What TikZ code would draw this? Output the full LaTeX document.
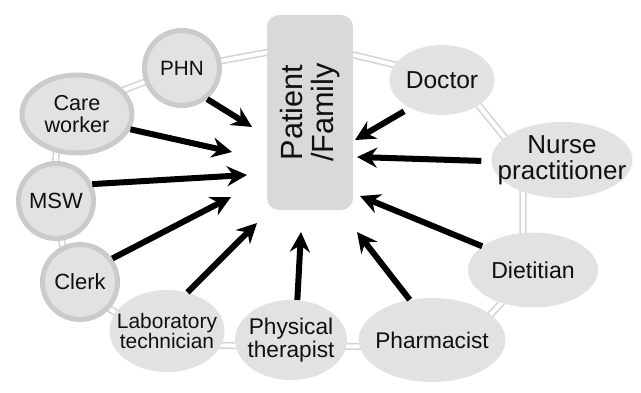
\documentclass[tikz,border=0pt]{standalone}
\usepackage{fontspec}
\setmainfont{Liberation Sans}
\usepackage{xcolor}
\usepackage{tikz}
\usetikzlibrary{arrows.meta, backgrounds, shapes.geometric}

\definecolor{rimgray}{HTML}{CBCBCB}
\definecolor{nodegray}{HTML}{E2E2E2}
\definecolor{boxgray}{HTML}{D9D9D9}
\definecolor{linkgray}{HTML}{D4D4D4}
\definecolor{ink}{HTML}{101010}

\begin{document}
\begin{tikzpicture}[
    x=0.75pt, y=-0.75pt,
    txt/.style={align=center, text=ink, inner sep=0pt, font=\fontsize{#1}{#1}\selectfont},
    txt/.default=16.5,
    staff/.style={circle, draw=rimgray, line width=3.75pt, fill=nodegray, minimum size=56.25pt, inner sep=0pt},
    role/.style={ellipse, fill=nodegray, inner sep=0pt},
    ring/.style={draw=linkgray, double=white, line width=1.2pt, double distance=3pt, line join=round},
    arr/.style={line width=4.5pt, -{Stealth[length=15pt, width=15pt, inset=5pt]}}
]
\useasboundingbox (0,0) rectangle (641,392);

% centre box
\node[rectangle, rounded corners=9pt, fill=boxgray, minimum width=64.5pt, minimum height=146.25pt, inner sep=0pt,
      label={[txt=23, rotate=90]center:Patient\\/Family}] (pf) at (310,112.5) {};

% left side, outlined
\node[staff, label={[txt=15.5]center:PHN}] (phn) at (182,68) {};
\node[staff, ellipse, minimum width=82.5pt, minimum height=58.5pt, label={[txt=16.2]center:Care\\worker}] (care) at (77,114) {};
\node[staff, label={[txt]center:MSW}] (msw) at (56,201) {};
\node[staff, label={[txt]center:Clerk}] (clerk) at (80,282) {};

% bottom and right side
\node[role, minimum width=86.25pt, minimum height=61.5pt, label={[txt=15.7]center:Laboratory\\technician}] (lab) at (167,331) {};
\node[role, minimum width=84pt, minimum height=60pt, label={[txt=17]center:Physical\\therapist}] (pt) at (291,340) {};
\node[role, minimum width=110pt, minimum height=63pt, label={[txt=17]center:Pharmacist}] (pharm) at (432,340) {};
\node[role, minimum width=97.5pt, minimum height=56.25pt, label={[txt=17.3]center:Dietitian}] (diet) at (533,270) {};
\node[role, minimum width=105.75pt, minimum height=57pt, label={[txt=19.5]center:Nurse\\practitioner}] (np) at (562,160) {};
\node[role, minimum width=78.75pt, minimum height=52.5pt, label={[txt=18.4]center:Doctor}] (doc) at (442,80) {};

% ring behind everything
\begin{scope}[on background layer]
\draw[ring] (phn.center) -- ([shift={(0,-68)}]pf.center) -- ([shift={(16,0)}]doc.center)
    -- ([shift={(-39,0)}]np.center) -- ([shift={(-10,10)}]diet.center) -- ([shift={(28,7)}]pharm.center)
    -- ([shift={(0,6)}]pt.center) -- ([shift={(0,14)}]lab.center) -- ([shift={(-8,3)}]clerk.center)
    -- ([shift={(-4,-1)}]msw.center) -- ([shift={(-17,0)}]care.center) -- cycle;
\end{scope}

% arrow tips near the box
\coordinate (tphn) at (252,127);
\coordinate (tcare) at (232,152);
\coordinate (tmsw) at (247,175);
\coordinate (tclerk) at (231,197);
\coordinate (tlab) at (257,223);
\coordinate (tpt) at (301,232);
\coordinate (tpharm) at (357,232);
\coordinate (tdiet) at (360,196);
\coordinate (tnp) at (357,157);
\coordinate (tdoc) at (355,140);

\draw[arr] (phn.-51) -- (tphn);
\draw[arr] (care.-16) -- (tcare);
\draw[arr] (msw.25) -- (tmsw);
\draw[arr] (clerk.36) -- (tclerk);
\draw[arr] (lab.62) -- (tlab);
\draw[arr] (pt.81) -- (tpt);
\draw[arr] (pharm.119) -- (tpharm);
\draw[arr] (diet.155) -- (tdiet);
\draw[arr, shorten <=7.5pt] (np.181) -- (tnp);
\draw[arr, shorten <=5pt] (doc.221) -- (tdoc);
\end{tikzpicture}
\end{document}
